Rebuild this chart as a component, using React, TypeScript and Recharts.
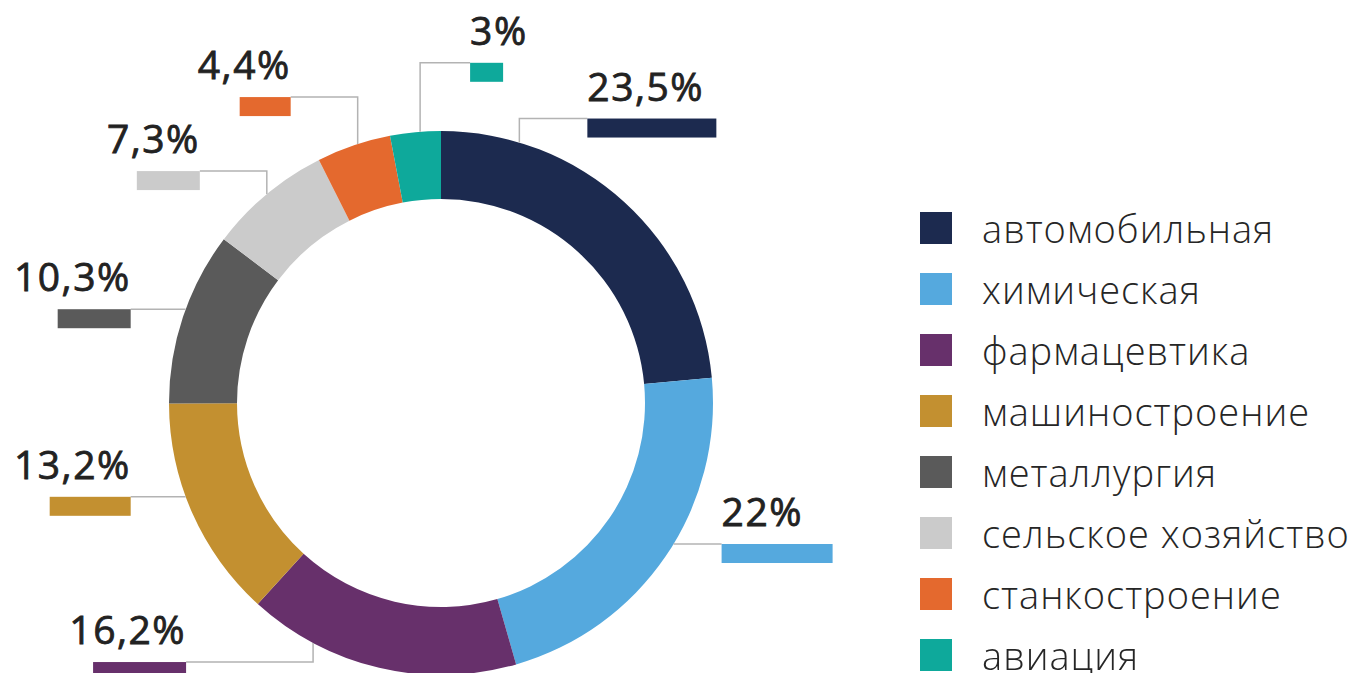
import { Cell, Legend, Pie, PieChart } from "recharts";

const categories = [
  "автомобильная",
  "химическая",
  "фармацевтика",
  "машиностроение",
  "металлургия",
  "сельское хозяйство",
  "станкостроение",
  "авиация",
];
const shares = [23.5, 22, 16.2, 13.2, 10.3, 7.3, 4.4, 3];
const colors = [
  "#1c2a4f",
  "#55a9de",
  "#67306b",
  "#c39030",
  "#5a5a5a",
  "#cbcbcb",
  "#e4692e",
  "#0ea99b",
];

const data = categories.map((name, i) => ({ name, value: shares[i] }));

// leader line: angle shift from slice middle, vertical rise, horizontal run, bar width
const LABEL_LAYOUT = [
  { shift: 25.6, rise: -24, run: 68, w: 129 },
  { shift: 3.1, rise: 0, run: 48, w: 111 },
  { shift: -14.9, rise: 19, run: -127, w: 93 },
  { shift: -3.7, rise: 0, run: -55, w: 81 },
  { shift: -1.7, rise: 0, run: -55, w: 73 },
  { shift: 0, rise: -23, run: -67, w: 63 },
  { shift: -0.9, rise: -47, run: -67, w: 51 },
  { shift: -1, rise: -69, run: 50, w: 33 },
];

const RAD = Math.PI / 180;
const fmt = (v: number) => `${String(v).replace(".", ",")}%`;

function renderLabel(props: any) {
  const { cx, cy, midAngle, outerRadius, index, value } = props;
  const l = LABEL_LAYOUT[index];
  const a = (midAngle + l.shift) * RAD;
  const x0 = cx + outerRadius * Math.cos(a);
  const y0 = cy - outerRadius * Math.sin(a);
  const y1 = y0 + l.rise;
  const x1 = x0 + l.run;
  const right = l.run > 0;
  return (
    <g>
      <polyline
        points={`${x0},${y0} ${x0},${y1} ${x1},${y1}`}
        fill="none"
        stroke="#b3b3b3"
        strokeWidth={1.5}
      />
      <rect x={right ? x1 : x1 - l.w} y={y1} width={l.w} height={19} fill={colors[index]} />
      <text
        x={x1}
        y={y1 - 18}
        textAnchor={right ? "start" : "end"}
        fontFamily="'Open Sans', sans-serif"
        fontWeight={400}
        fontSize={39}
        letterSpacing={1.5}
        fill="#222"
        stroke="#222"
        strokeWidth={0.8}
      >
        {fmt(value)}
      </text>
    </g>
  );
}

function LegendList() {
  return (
    <div style={{ fontFamily: "'Open Sans', sans-serif" }}>
      {categories.map((name, i) => (
        <div key={name} style={{ display: "flex", alignItems: "flex-end", height: 61 }}>
          <div style={{ width: 32, height: 32, background: colors[i] }} />
          <span
            style={{
              marginLeft: 30,
              fontSize: 38,
              lineHeight: "32px",
              color: "#262626",
              fontWeight: 300,
              letterSpacing: 1,
              whiteSpace: "nowrap",
              position: "relative",
              top: 0,
            }}
          >
            {name}
          </span>
        </div>
      ))}
    </div>
  );
}

export default function App() {
  return (
    <div style={{ position: "fixed", left: 0, top: 0, width: 1371, height: 673, background: "#fff" }}>
      <PieChart width={1371} height={673} margin={{ top: 0, right: 0, bottom: 0, left: 0 }}>
        <Pie
          data={data}
          dataKey="value"
          nameKey="name"
          cx={441}
          cy={403}
          outerRadius={272}
          innerRadius={204}
          startAngle={90}
          endAngle={-270}
          stroke="none"
          label={renderLabel}
          labelLine={false}
          isAnimationActive={false}
        >
          {data.map((d, i) => (
            <Cell key={d.name} fill={colors[i]} />
          ))}
        </Pie>
        <Legend
          layout="vertical"
          content={() => <LegendList />}
          wrapperStyle={{ left: 920, top: 183, width: 450 }}
        />
      </PieChart>
    </div>
  );
}
